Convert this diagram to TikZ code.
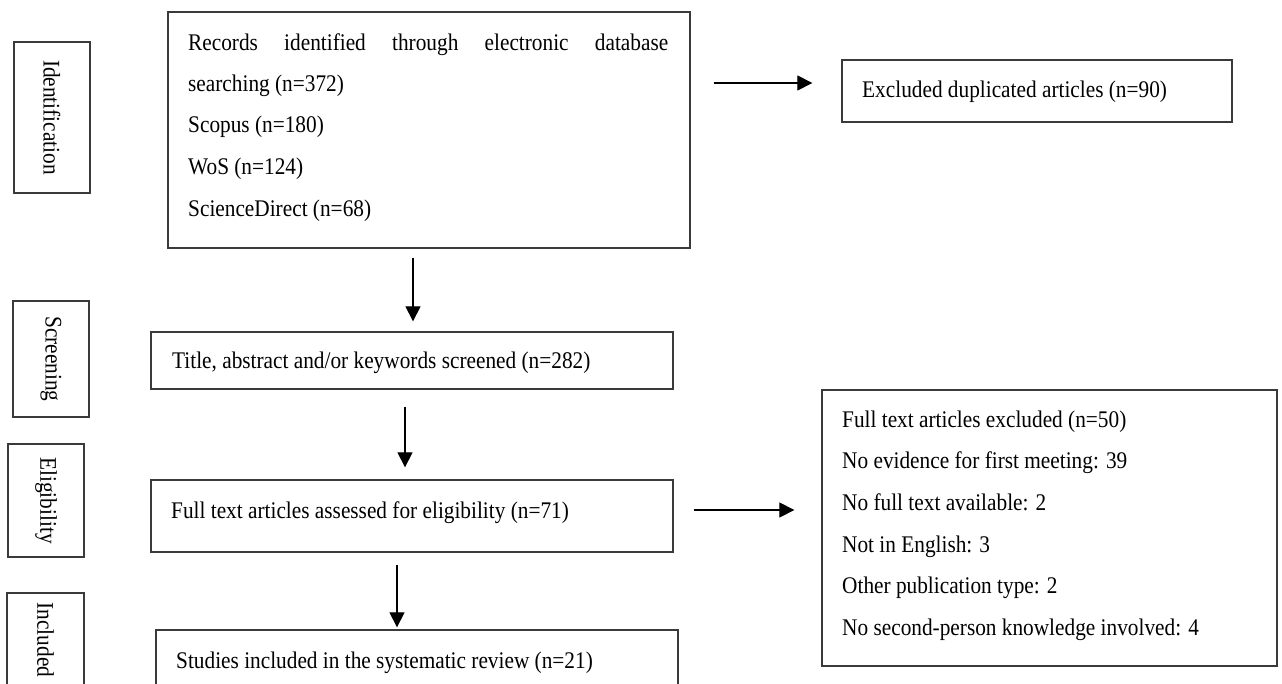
\documentclass[tikz,border=0pt]{standalone}
\usepackage{fontspec}
\setmainfont{Liberation Serif}
\usetikzlibrary{arrows.meta}
\definecolor{boxc}{HTML}{3A3A3A}
\newcommand{\tall}[1]{\scalebox{1}[1.12]{#1}}
\begin{document}
\begin{tikzpicture}[x=1pt,y=-1pt,
  box/.style={draw=boxc, line width=1.3pt, inner sep=0pt, fill=none},
  txt/.style={anchor=base west, inner sep=0pt, font=\fontsize{21.3}{25}\selectfont, text=black},
  side/.style={box, rotate=-90, font=\fontsize{21.3}{25}\selectfont, text=black},
  arr/.style={line width=1.2pt, draw=black, -{Triangle[length=15pt,width=15pt]}}]
\useasboundingbox (0,0) rectangle (1282,684);
\clip (0,0) rectangle (1282,684);
\fill[white] (0,0) rectangle (1282,684);

% stage boxes
\node[side, minimum width=151pt, minimum height=76pt] (idbox) at (52,117.5) {\tall{Identification}};
\node[side, minimum width=116pt, minimum height=76pt] (scbox) at (51,359) {\tall{Screening}};
\node[side, minimum width=113pt, minimum height=76pt] (elbox) at (46,500.5) {\tall{Eligibility}};
\node[side, minimum width=94pt, minimum height=77pt] (inbox) at (45.5,640) {\tall{Included}};

% main boxes
\node[box, minimum width=522pt, minimum height=236pt] (topbox) at (429,130) {};
\node[box, minimum width=390pt, minimum height=62pt] (exbox) at (1037,91) {};
\node[box, minimum width=522pt, minimum height=57pt] (title) at (412,360.5) {};
\node[box, minimum width=522pt, minimum height=72pt] (full) at (412,516) {};
\node[box, minimum width=522pt, minimum height=75pt] (studies) at (417,667.5) {};
\node[box, minimum width=455pt, minimum height=276pt] (right) at (1049.5,528) {};

% texts
\node[txt] (t1) at (188,51) {\tall{\makebox[480pt][s]{Records identified through electronic database}}};
\node[txt] (t2) at (188,92) {\tall{searching (n=372)}};
\node[txt] (t3) at (188,133) {\tall{Scopus (n=180)}};
\node[txt] (t4) at (188,175) {\tall{WoS (n=124)}};
\node[txt] (t5) at (188,217) {\tall{ScienceDirect (n=68)}};

\node[txt] (ex) at (862,98) {\tall{Excluded duplicated articles (n=90)}};
\node[txt] (ti) at (172,369) {\tall{Title, abstract and/or keywords screened (n=282)}};
\node[txt] (fu) at (171,518) {\tall{Full text articles assessed for eligibility (n=71)}};
\node[txt] (st) at (176,668) {\tall{Studies included in the systematic review (n=21)}};

\node[txt] (r1) at (842,427) {\tall{Full text articles excluded (n=50)}};
\node[txt] (r2) at (842,468.7) {\tall{No evidence for first meeting: 39}};
\node[txt] (r3) at (842,510.4) {\tall{No full text available: 2}};
\node[txt] (r4) at (842,552.1) {\tall{Not in English: 3}};
\node[txt] (r5) at (842,593.8) {\tall{Other publication type: 2}};
\node[txt] (r6) at (842,635.5) {\tall{No second-person knowledge involved: 4}};

% connectors
\coordinate (v1) at (413,0);
\coordinate (v2) at (405,0);
\coordinate (v3) at (397,0);
\coordinate (h1) at (0,83);
\coordinate (h2) at (0,510);
\draw[arr, shorten <=9pt, shorten >=10pt] (topbox.south -| v1) -- (title.north -| v1);
\draw[arr, shorten <=17pt, shorten >=12pt] (title.south -| v2) -- (full.north -| v2);
\draw[arr, shorten <=12pt, shorten >=2pt] (full.south -| v3) -- (studies.north -| v3);
\draw[arr, shorten <=23pt, shorten >=29pt] (topbox.east |- h1) -- (exbox.west |- h1);
\draw[arr, shorten <=20pt, shorten >=27pt] (full.east |- h2) -- (right.west |- h2);
\end{tikzpicture}
\end{document}
